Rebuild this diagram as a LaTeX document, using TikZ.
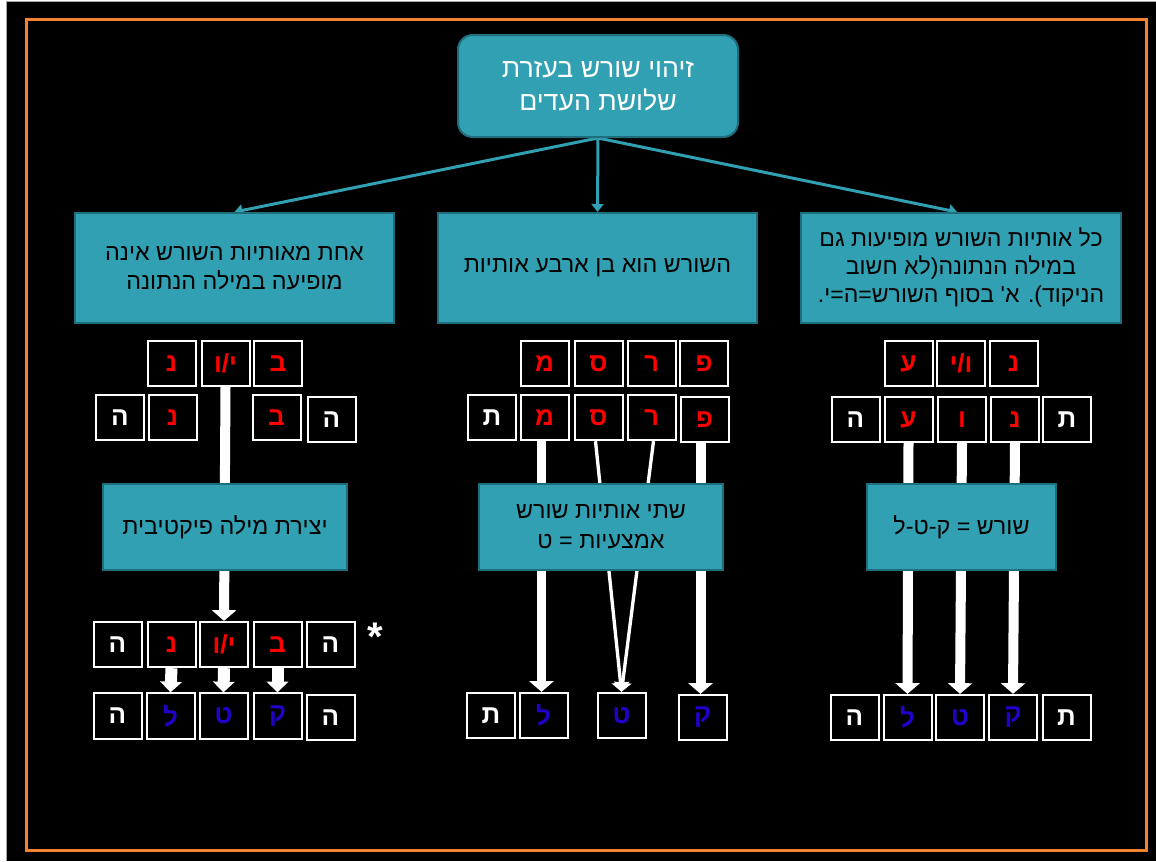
\documentclass[tikz,border=0pt]{standalone}
\usepackage{fontspec}
\setmainfont{Liberation Sans}
\newfontfamily\heb[Script=Hebrew]{Liberation Sans}
\TeXXeTstate=1
\usetikzlibrary{arrows.meta,calc}
\definecolor{tealf}{RGB}{49,160,178}
\definecolor{tealb}{RGB}{30,110,125}
\definecolor{tline}{RGB}{49,160,178}
\definecolor{lblue}{RGB}{34,0,204}
\definecolor{frameor}{RGB}{243,131,49}
\definecolor{redl}{RGB}{255,0,0}
\pgfdeclarelayer{back}
\pgfdeclarelayer{mid}
\pgfsetlayers{back,mid,main}
\tikzset{
  tbox/.style={draw=tealb, line width=1.5pt, fill=tealf, inner sep=0pt, align=center},
  lb/.style={draw=white, line width=1.5pt, fill=black, minimum width=36pt, minimum height=34pt, inner sep=0pt, font=\heb\bfseries\fontsize{19.5}{21}\selectfont},
  rl/.style={lb, text=redl},
  wl/.style={lb, text=white},
  bl/.style={lb, text=lblue},
  tarrow/.style={draw=tline, line width=2.25pt, -{Triangle[width=9pt,length=6pt]}},
  fatbar/.style={draw=white, line width=7.5pt, -{Triangle[width=18pt,length=8pt]}},
  shortarr/.style={draw=white, line width=9pt, -{Triangle[width=16pt,length=8pt]}},
  thinarr/.style={draw=white, line width=2.5pt, -{Triangle[width=13pt,length=7pt]}},
}
\newcommand\R[1]{\beginR #1\endR}
\begin{document}
\begin{tikzpicture}[x=0.75pt,y=-0.75pt]
\useasboundingbox (0,0) rectangle (1156,861);
\begin{pgfonlayer}{back}
\fill[black] (6,1) rectangle (1156,861);
\draw[gray!70, line width=0.75pt] (6,1) -- (1156,1);
\draw[gray!70, line width=0.75pt] (6,1) -- (6,861);
\draw[frameor, line width=2.25pt] (26,19) rectangle (1146,850);
\end{pgfonlayer}

% top box
\node[tbox, rounded corners=11pt, minimum width=210pt, minimum height=76.5pt, text=white,
  font=\heb\fontsize{20}{25}\selectfont] (top) at (598,86)
  {\R{זיהוי שורש בעזרת}\\\R{שלושת העדים}};

% level 2 boxes
\node[tbox, minimum width=239pt, minimum height=82.5pt, text=black,
  font=\heb\fontsize{17.5}{22}\selectfont] (L2a) at (234.5,268)
  {\R{אחת מאותיות השורש אינה}\\\R{מופיעה במילה הנתונה}};
\node[tbox, minimum width=239pt, minimum height=82.5pt, text=black,
  font=\heb\fontsize{17.5}{22}\selectfont] (L2b) at (597.5,268)
  {\R{השורש הוא בן ארבע אותיות}};
\node[tbox, minimum width=240pt, minimum height=82.5pt, text=black,
  font=\heb\fontsize{17.3}{21}\selectfont] (L2c) at (961,268)
  {\R{כל אותיות השורש מופיעות גם}\\\R{במילה הנתונה(לא חשוב}\\\R{הניקוד). א' בסוף השורש=ה=י.}};

% bottom teal boxes
\node[tbox, minimum width=183pt, minimum height=64.5pt, text=black,
  font=\heb\fontsize{17.5}{22.5}\selectfont] (B1) at (225,527)
  {\R{יצירת מילה פיקטיבית}};
\node[tbox, minimum width=183pt, minimum height=64.5pt, text=black,
  font=\heb\fontsize{17.5}{22.5}\selectfont] (B2) at (601,527)
  {\R{שתי אותיות שורש}\\\R{אמצעיות = ט}};
\node[tbox, minimum width=141.75pt, minimum height=64.5pt, text=black,
  font=\heb\fontsize{17.5}{22.5}\selectfont] (B3) at (961.5,527)
  {\R{שורש = ק-ט-ל}};

% ---------- left column ----------
\node[rl] (a1) at (171.5,363.5) {נ};
\node[rl] (a2) at (225.5,363.5) {\mbox{ו}\mbox{/}\mbox{י}};
\node[rl] (a3) at (278,363.5) {ב};
\node[wl] (b1) at (120,417.5) {ה};
\node[rl] (b2) at (172.5,417.5) {נ};
\node[rl] (b3) at (276.5,417.5) {ב};
\node[wl] (b4) at (331.5,419.5) {ה};
\node[wl] (c1) at (117.5,644.5) {ה};
\node[rl] (c2) at (171.5,644.5) {נ};
\node[rl] (c3) at (224,644.5) {\mbox{ו}\mbox{/}\mbox{י}};
\node[rl] (c4) at (277.5,644.5) {ב};
\node[wl] (c5) at (330.5,644.5) {ה};
\node[wl] (d1) at (117.5,716) {ה};
\node[bl] (d2) at (170.5,716) {ל};
\node[bl] (d3) at (223.5,716) {ט};
\node[bl] (d4) at (277.5,716) {ק};
\node[wl] (d5) at (330.5,717.5) {ה};
\node[text=white, font=\bfseries\fontsize{30}{32}\selectfont, inner sep=0pt] (star) at (375,637) {*};

% ---------- middle column ----------
\node[rl] (m1) at (544.5,363.5) {מ};
\node[rl] (m2) at (598.5,363.5) {ס};
\node[rl] (m3) at (651.5,363.5) {ר};
\node[rl] (m4) at (704,363.5) {פ};
\node[wl] (n1) at (492,417.5) {ת};
\node[rl] (n2) at (544.5,417.5) {מ};
\node[rl] (n3) at (598.5,417.5) {ס};
\node[rl] (n4) at (651.5,417.5) {ר};
\node[rl] (n5) at (704.5,419.5) {פ};
\node[wl] (o1) at (491,715.5) {ת};
\node[bl] (o2) at (543.5,715.5) {ל};
\node[bl] (o3) at (621.5,715.5) {ט};
\node[bl] (o4) at (702.5,717.5) {ק};

% ---------- right column ----------
\node[rl] (r1) at (908.5,363.5) {ע};
\node[rl] (r2) at (961,363.5) {\mbox{י}\mbox{/}\mbox{ו}};
\node[rl] (r3) at (1013.5,363.5) {נ};
\node[wl] (s1) at (855.5,419.5) {ה};
\node[rl] (s2) at (908.5,419.5) {ע};
\node[rl] (s3) at (962,419.5) {ו};
\node[rl] (s4) at (1015,419.5) {נ};
\node[wl] (s5) at (1067,419.5) {ת};
\node[wl] (u1) at (854.5,717.5) {ה};
\node[bl] (u2) at (907.5,717.5) {ל};
\node[bl] (u3) at (960,717.5) {ט};
\node[bl] (u4) at (1013,717.5) {ק};
\node[wl] (u5) at (1066.5,717.5) {ת};

% ---------- connectors ----------
\begin{pgfonlayer}{mid}
\draw[tarrow] (top.south) -- (L2a.north);
\draw[tarrow] (top.south) -- (L2b.north);
\draw[tarrow] (top.south) -- ($(L2c.north)+(-4,0)$);
% left
\draw[fatbar] (a2.south) -- (c3.north);
\draw[shortarr] (c2.south) -- (d2.north);
\draw[shortarr] (c3.south) -- (d3.north);
\draw[shortarr] (c4.south) -- (d4.north);
% middle
\draw[fatbar, line width=6.5pt] ($(n2.south)+(-3,0)$) -- ($(o2.north)+(-2,0)$);
\draw[fatbar] ($(n5.south)+(-4,0)$) -- ($(o4.north)+(-2,0)$);
\draw[thinarr] ($(n3.south)+(-3,0)$) -- (o3.north);
\draw[thinarr] ($(n4.south)+(2,0)$) -- (o3.north);
% right
\draw[fatbar] (s2.south) -- (u2.north);
\draw[fatbar] (s3.south) -- (u3.north);
\draw[fatbar] (s4.south) -- (u4.north);
\end{pgfonlayer}
\end{tikzpicture}
\end{document}
